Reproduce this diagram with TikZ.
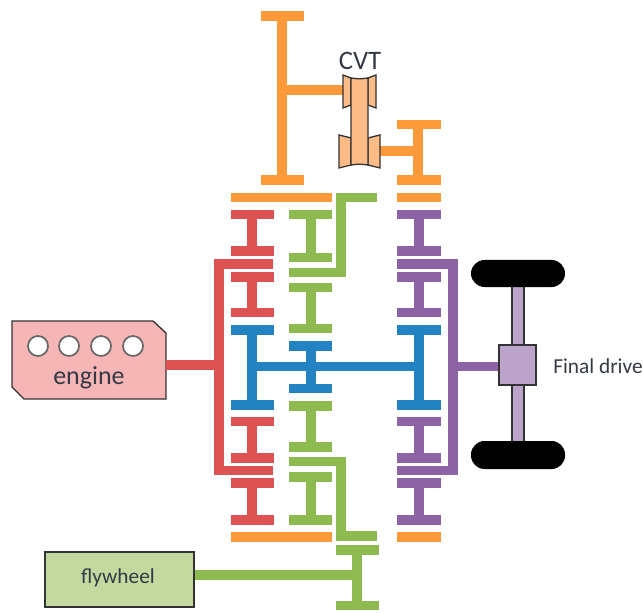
\documentclass[tikz,border=0pt]{standalone}
\usepackage{fontspec}
\setmainfont{Carlito}
\definecolor{cOrange}{HTML}{FF9A3A}
\definecolor{cRed}{HTML}{DD5252}
\definecolor{cGreen}{HTML}{8DBB50}
\definecolor{cPurple}{HTML}{8C64A6}
\definecolor{cBlue}{HTML}{2382C2}
\definecolor{cPulley}{HTML}{FDBB87}
\definecolor{cEngine}{HTML}{F6B6B6}
\definecolor{cFly}{HTML}{C3D9A0}
\definecolor{cAxle}{HTML}{BBA3CC}
\definecolor{cText}{HTML}{333A45}
\tikzset{
  shaft/.style={line width=6.8pt,line join=miter,line cap=butt},
  stem/.style={line width=6.8pt,line cap=butt},
  outline/.style={draw=black!80,line width=1pt,line join=miter},
  lbl/.style={text=cText,font=\fontsize{16pt}{18pt}\selectfont,inner sep=0pt},
}
% gear: x-left, x-right, stem x, y-top, y-bottom, colour
\newcommand{\gearI}[6]{%
  \draw[shaft,#6] (#1,#4) -- (#2,#4);
  \draw[shaft,#6] (#1,#5) -- (#2,#5);
  \draw[stem,#6] (#3,#4) -- (#3,#5);
}
\begin{document}
\begin{tikzpicture}[x=0.75pt,y=-0.75pt]
\useasboundingbox (0,0) rectangle (643,613);
\fill[white] (0,0) rectangle (643,613);

% --- top CVT gears
\gearI{261}{304}{282}{16}{180}{cOrange}
\gearI{397}{441}{418}{124.5}{180}{cOrange}
\draw[shaft,cOrange] (282,90) -- (344,90);
\draw[shaft,cOrange] (380,151) -- (418,151);
\draw[shaft,cOrange] (231,197.5) -- (332,197.5);
\draw[shaft,cOrange] (397,197.5) -- (441,197.5);
\draw[shaft,cOrange] (231,537) -- (332,537);
\draw[shaft,cOrange] (397,537) -- (441,537);

% --- CVT pulleys and belt
\path[outline,fill=cPulley] (343,75) -- (351,78) -- (351,105) -- (343,108) -- cycle;
\path[outline,fill=cPulley] (376,75) -- (368,78) -- (368,105) -- (376,108) -- cycle;
\path[outline,fill=cPulley] (339,135) -- (351,138) -- (351,165) -- (339,168) -- cycle;
\path[outline,fill=cPulley] (380,135) -- (368,138) -- (368,165) -- (380,168) -- cycle;
\path[outline,fill=cPulley] (351,78) .. controls (357,79) and (362,79) .. (368,78) -- (368,165) .. controls (362,164) and (357,164) .. (351,165) -- cycle;
\node[lbl,font=\fontsize{20pt}{22pt}\selectfont] (cvt) at (360,61) {CVT};

% --- red
\gearI{231}{274}{252}{214.5}{251}{cRed}
\gearI{231}{274}{252}{277}{312.5}{cRed}
\gearI{231}{274}{252}{421.5}{458}{cRed}
\gearI{231}{274}{252}{483}{520}{cRed}
\draw[shaft,cRed] (273,264) -- (219,264) -- (219,470.7) -- (273,470.7);

% --- green
\gearI{289}{332}{311}{214.5}{257.5}{cGreen}
\gearI{289}{332}{311}{287.5}{328.5}{cGreen}
\gearI{289}{332}{311}{406}{447}{cGreen}
\gearI{289}{332}{311}{477}{520}{cGreen}
\draw[shaft,cGreen] (377,197.5) -- (341,197.5) -- (341,272.5) -- (289,272.5);
\draw[shaft,cGreen] (289,461.5) -- (341,461.5) -- (341,536) -- (377,536);
\gearI{336}{379}{357}{550}{605.5}{cGreen}

% --- purple
\gearI{397}{441}{419}{214.5}{251}{cPurple}
\gearI{397}{441}{419}{277}{312.5}{cPurple}
\gearI{397}{441}{419}{421.5}{458}{cPurple}
\gearI{397}{441}{419}{483}{520}{cPurple}
\draw[shaft,cPurple] (397,264) -- (453,264) -- (453,470.7) -- (397,470.7);

% --- blue
\gearI{231}{274}{252}{330}{405}{cBlue}
\gearI{289}{332}{311}{346}{388.5}{cBlue}
\gearI{397}{441}{419}{330}{405}{cBlue}
\draw[shaft,cBlue] (252,366.5) -- (419,366.5);

% --- final drive and wheels
\path[outline,fill=cAxle] (512,280) rectangle (524,448);
\node[fill=black,rounded corners=13.5*0.75pt,minimum width=94*0.75pt,minimum height=27*0.75pt,inner sep=0pt] (wheelT) at (518,273.5) {};
\node[fill=black,rounded corners=13.5*0.75pt,minimum width=94*0.75pt,minimum height=28*0.75pt,inner sep=0pt] (wheelB) at (518,455) {};
\node[outline,fill=cAxle,minimum width=37*0.75pt,minimum height=40*0.75pt,inner sep=0pt] (fd) at (517.5,365) {};
\coordinate (pj) at (453,366.5);
\draw[shaft,cPurple] (pj) -- (fd.west |- pj);
\node[lbl,anchor=west] (fdlabel) at (553,366) {Final drive};

% --- engine
\path[outline,fill=cEngine] (12,321) -- (153,321) -- (166,333) -- (166,399) -- (24,399) -- (12,387) -- cycle;
\coordinate (engE) at (166,365);
\coordinate (redJ) at (219,365);
\draw[shaft,cRed] (engE) -- (redJ);
\foreach \cx/\nm in {38/a,69/b,101/c,133/d}
  \node[circle,draw=black!60,line width=1.3pt,fill=white,minimum size=20*0.75pt,inner sep=0pt] (cyl\nm) at (\cx,346) {};
\node[lbl,font=\fontsize{19.5pt}{21pt}\selectfont] (engine) at (89,378) {engine};

% --- flywheel
\node[outline,fill=cFly,minimum width=149*0.75pt,minimum height=55*0.75pt,inner sep=0pt] (fly) at (119.5,579.5) {};
\node[lbl] (flylabel) at (118,578) {flywheel};
\coordinate (flyJ) at (357,575);
\draw[shaft,cGreen] (fly.east |- flyJ) -- (flyJ);
\end{tikzpicture}
\end{document}
